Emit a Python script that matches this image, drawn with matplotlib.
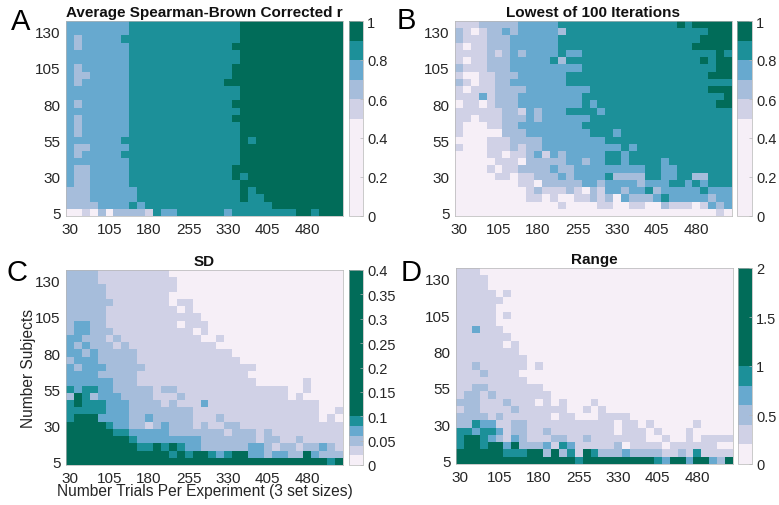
import numpy as np
import matplotlib
matplotlib.use("Agg")
import matplotlib.pyplot as plt
from matplotlib.cm import ScalarMappable
from matplotlib.colors import BoundaryNorm, ListedColormap

plt.rcParams["font.family"] = ["Liberation Sans", "DejaVu Sans"]

trials = np.arange(30, 541, 15)
subjects = np.arange(135, 4, -5)
xticks = [30, 105, 180, 255, 330, 405, 480]
yticks = [5, 30, 55, 80, 105, 130]

colors = ["#f6eff7", "#d0d1e6", "#a6bddb", "#67a9cf", "#1c9099", "#016c59"]

# colour class of every cell, top row (135 subjects) first
mean_r = [
    "33333333444444444444445555555555555",
    "33333333444444444444445555555555555",
    "32333334444444444444445555555555555",
    "32333333444444444444455555555555555",
    "33333333444444444444445555555555555",
    "33333333444444444444445555555555555",
    "32333333444444444444455555555555555",
    "32233333444444444444455555555555555",
    "32333333444444444444555555555555555",
    "33333333444444444444445555555555555",
    "33333333444444444444445555555555555",
    "32333333444444444444455555555555555",
    "33333333444444444444445555555555555",
    "32333333444444444444455555555555555",
    "32333333444444444444445555555555555",
    "32333333444444444444445555555555555",
    "33333334444444444444445455555555555",
    "32233333444444444444445555555555555",
    "32333334444444444444445555555555555",
    "33333333444444444444445555555555555",
    "32233333444444444444455555555555555",
    "32233333444444444444454555555555555",
    "32233333444444444444445555555555555",
    "22233333344444444444445455555555555",
    "22233333344444444444445445555555555",
    "22223333434444444444444444555555555",
    "00102022221433444444344444444554555",
]

lowest = [
    "11122222333334444444444444445455555",
    "21012232333332444444444444444444555",
    "21112223333334444444444444444445555",
    "10112223333334444444444444444455555",
    "11112123233334334444444444444444454",
    "10112223333342444444444444444445455",
    "21112223333333334444444444444444455",
    "10011222333333444444444444444444555",
    "21011223333333444444444444444444444",
    "10111222233333333444444444444444555",
    "11131222333333334444444444444444445",
    "01101222333333334344444444444444455",
    "11111122132333444434444444444444444",
    "11011122232333333444444444444444444",
    "10001122333333334444444444444444444",
    "10000022233333333444344444444444444",
    "00001112222333333334444444444444444",
    "10001112122333333333343444444444444",
    "00001101123132333334434444444444444",
    "00000111022222332334434444344444444",
    "00001011222232233333333344334444444",
    "00000110112223233334222244334422444",
    "00000000110222223323333233344343444",
    "00000000012111210213323342333334333",
    "00000000011010011212032223433333233",
    "00000000000001000011001100211101323",
    "00000000000000000000000000000000010",
]

sd = [
    "22221111111110000000000000000000000",
    "22221111111111000000000000000000000",
    "22222111111111000000000000000000000",
    "22222111111110000000000000000000000",
    "22222211111110110000000000000000000",
    "22222111111111010000000000000000000",
    "22222111111111111000000000000000000",
    "23322111111111011100000000000000000",
    "23322211111111110100000000000000000",
    "33222121111111111001000000000000000",
    "32322212111111111110000000000000000",
    "33232222211111111111100000000000000",
    "23332222211111111111110000000000000",
    "32333222221111111111111100000000000",
    "33332222211111111111111000000000000",
    "33333322211111111111111100000010000",
    "43443322222122111111111111110010000",
    "25423332222111211111111111110100000",
    "45444333222212111311111111111111000",
    "44444333222222221111111111111111001",
    "45553333223222221112111111111111010",
    "55555433221232221211221111111111111",
    "55555544333332222222122212111111111",
    "55555555433333333222222212211211111",
    "55555555544545433222222332122122321",
    "55555555555554545543455332332253222",
    "55555555555555555555555555555555545",
]

range_r = [
    "11100000000000000000000000000000000",
    "11110000000000000000000000000000000",
    "11110000000000000000000000000000000",
    "11111010000000000000000000000000000",
    "11111100000000000000000000000000000",
    "11111000000000000000000000000000000",
    "11111010000000000000000000000000000",
    "11111000000000000000000000000000000",
    "11311100000000000000000000000000000",
    "11111110000000000000000000000000000",
    "11111101000000000000000000000000000",
    "11111111000000000000000000000000000",
    "11111111100000000000000000000000000",
    "11211111101000000000000000000000000",
    "11121111000000000000000000000000000",
    "11111111100000000000000000000000000",
    "11221111111000000000000000000000000",
    "12212111111100000000000000000000000",
    "22211121110101000100000000000000000",
    "12211112111111001010000000000000000",
    "22221211111101100011110000000000000",
    "22433112211111111111011010000010000",
    "44344312211211111111011101000100000",
    "45543213211122112111111100100101111",
    "45545535222314311111201111011111100",
    "55555544455252415422232222112141111",
    "55555555555555545555555554355355325",
]

panels = [
    ("A", "Average Spearman-Brown Corrected r", mean_r,
     [0, 0.5, 0.6, 0.7, 0.8, 0.9, 1], [0, 0.2, 0.4, 0.6, 0.8, 1],
     (66, 343, 22, 217), (349, 363)),
    ("B", "Lowest of 100 Iterations", lowest,
     [0, 0.5, 0.6, 0.7, 0.8, 0.9, 1], [0, 0.2, 0.4, 0.6, 0.8, 1],
     (455, 732, 22, 217), (737, 752)),
    ("C", "SD", sd,
     [0, 0.02, 0.04, 0.06, 0.08, 0.1, 0.4],
     [0, 0.05, 0.1, 0.15, 0.2, 0.25, 0.3, 0.35, 0.4],
     (66, 343, 271, 466), (349, 363)),
    ("D", "Range", range_r,
     [0, 0.2, 0.4, 0.6, 0.8, 1, 2], [0, 0.5, 1, 1.5, 2],
     (456, 733, 269, 465), (738, 752)),
]
letter_pos = {"A": (11, 30), "B": (397, 29), "C": (6, 281), "D": (401, 281)}

W, H = 779, 506
text_color = "#262626"
edge_color = "#b5b5b5"


def px_axes(fig, x0, x1, y0, y1):
    return fig.add_axes([x0 / W, 1 - y1 / H, (x1 - x0) / W, (y1 - y0) / H])


fig = plt.figure(figsize=(W / 100, H / 100), dpi=100)
cmap = ListedColormap(colors)

for letter, title, rows, bounds, cticks, box, cbox in panels:
    levels = np.array([[int(c) for c in r] for r in rows])
    mids = (np.array(bounds[:-1]) + np.array(bounds[1:])) / 2
    norm = BoundaryNorm(bounds, 6)

    ax = px_axes(fig, *box)
    ax.pcolormesh(np.arange(22.5, 548, 15), np.arange(137.5, 2, -5), mids[levels],
                  cmap=cmap, norm=norm, antialiased=False)
    ax.set_xlim(22.5, 547.5)
    ax.set_ylim(2.5, 137.5)
    ax.set_xticks(xticks)
    ax.set_yticks(yticks)
    ax.tick_params(length=0, labelsize=11, labelcolor=text_color, pad=4)
    for s in ax.spines.values():
        s.set_linewidth(0.5)
        s.set_color(edge_color)
    ax.text(0.5, 1.012, title, transform=ax.transAxes, ha="center", va="bottom",
            fontsize=11, fontweight="bold", color="#111111")

    cax = px_axes(fig, cbox[0], cbox[1], box[2], box[3])
    cb = fig.colorbar(ScalarMappable(norm=norm, cmap=cmap), cax=cax,
                      spacing="proportional", ticks=cticks, drawedges=False)
    cb.ax.set_yticklabels([f"{t:g}" for t in cticks])
    cb.ax.minorticks_off()
    cb.ax.tick_params(length=2, width=0.5, direction="in", color=edge_color,
                      labelsize=10.5, labelcolor=text_color, pad=3)
    cb.outline.set_linewidth(0.5)
    cb.outline.set_edgecolor(edge_color)

    lx, ly = letter_pos[letter]
    fig.text(lx / W, 1 - ly / H, letter, fontsize=21, color="black", ha="left", va="baseline")

    if letter == "C":
        ax.set_xlabel("Number Trials Per Experiment (3 set sizes)", fontsize=11.2,
                      color=text_color, va="center")
        ax.xaxis.set_label_coords(0.5, -26 / 195)
        ax.set_ylabel("Number Subjects", fontsize=11.2, color=text_color, va="center")
        ax.yaxis.set_label_coords(-38 / 277, 0.5)

fig.savefig("out.png", dpi=100)
